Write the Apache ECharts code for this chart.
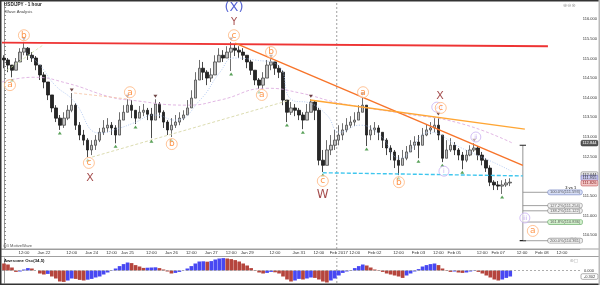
<!DOCTYPE html>
<html><head><meta charset="utf-8">
<script src="https://cdn.jsdelivr.net/npm/echarts@6/dist/echarts.min.js"></script>
<style>html,body{margin:0;padding:0;background:#fff}#c{width:600px;height:285px}</style>
</head><body><div id="c"></div>
<script>
// ---------- DATA ----------
const SLOTS = 145;
const openP = [115.01,114.96,114.83,114.70,114.91,115.16,115.26,115.08,115.01,114.83,
114.58,114.40,114.07,113.74,113.48,113.30,113.48,113.68,113.81,113.30,
113.05,112.92,112.67,112.79,112.92,113.12,113.23,113.30,113.23,113.05,
113.43,113.63,113.81,113.68,113.48,113.63,113.68,113.58,113.43,113.84,
113.63,113.38,113.18,113.30,113.38,113.48,113.56,113.74,113.99,114.45,
114.75,114.65,114.50,114.58,114.91,115.08,115.01,115.16,115.26,115.21,
115.16,115.08,114.91,114.70,114.45,114.32,114.50,114.83,114.91,114.75,
114.65,113.94,113.63,113.74,113.68,113.56,113.43,113.63,113.89,113.68,
112.41,112.28,112.67,112.79,112.92,113.05,113.18,113.30,113.38,113.43,
113.63,113.81,113.05,113.18,113.23,113.12,112.92,112.72,112.62,112.41,
112.28,112.46,112.62,112.79,112.87,112.79,113.05,113.18,113.23,113.30,
113.05,112.46,112.67,112.79,112.67,112.54,112.41,112.54,112.67,112.72,
112.54,112.41,112.21,111.85,111.78,111.75,111.78,111.83];
const highP = [115.08,115.01,114.83,115.01,115.26,115.42,115.29,115.16,115.06,114.83,
114.65,114.40,114.07,113.81,113.56,113.63,113.81,114.12,113.86,113.38,
113.18,112.97,112.92,113.05,113.23,113.43,113.48,113.38,113.30,113.63,
113.81,113.96,113.94,113.68,113.79,113.84,113.74,113.74,113.96,113.89,
113.68,113.43,113.48,113.56,113.63,113.68,113.94,114.19,114.65,114.96,
114.91,114.70,114.75,115.08,115.26,115.21,115.31,115.42,115.36,115.31,
115.26,115.08,114.96,114.70,114.50,114.65,114.96,114.98,114.91,114.83,
114.70,113.94,113.89,113.84,113.74,113.63,113.84,113.96,113.94,113.74,
112.67,112.92,113.05,113.18,113.30,113.35,113.48,113.53,113.63,113.81,
114.02,113.81,113.30,113.38,113.30,113.12,112.97,112.79,112.67,112.54,
112.67,112.77,112.92,113.02,113.05,113.23,113.33,113.38,113.48,113.51,
113.05,112.92,112.97,112.87,112.72,112.62,112.67,112.79,112.84,112.77,
112.62,112.46,112.28,111.90,111.88,111.90,111.93,111.95];
const lowP = [114.75,114.65,114.52,114.70,114.96,115.08,114.96,114.91,114.70,114.45,
114.24,113.94,113.63,113.38,113.18,113.23,113.43,113.63,113.18,112.92,
112.79,112.49,112.54,112.67,112.87,113.05,113.12,113.05,112.84,113.05,
113.43,113.63,113.48,113.33,113.48,113.53,113.43,112.97,113.43,113.48,
113.23,113.05,113.00,113.23,113.30,113.43,113.56,113.74,113.99,114.45,
114.45,114.32,114.40,114.58,114.91,114.91,115.01,114.68,115.06,115.01,
114.96,114.75,114.58,114.32,114.22,114.22,114.50,114.70,114.58,114.50,
113.81,113.38,113.56,113.53,113.43,113.20,113.43,113.63,113.43,112.28,
112.11,112.28,112.54,112.67,112.79,112.92,113.12,113.23,113.28,113.43,
113.63,112.77,112.92,113.05,112.92,112.72,112.54,112.41,112.21,112.03,
112.28,112.41,112.62,112.67,112.46,112.79,113.02,113.07,113.12,112.92,
112.36,112.46,112.62,112.54,112.41,112.18,112.36,112.51,112.62,112.41,
112.28,112.11,111.75,111.65,111.65,111.55,111.73,111.75];
const closeP = [114.96,114.83,114.70,114.91,115.16,115.26,115.08,115.01,114.83,114.58,
114.40,114.07,113.74,113.48,113.30,113.48,113.68,113.81,113.30,113.05,
112.92,112.67,112.79,112.92,113.12,113.23,113.30,113.23,113.05,113.43,
113.63,113.81,113.68,113.48,113.63,113.68,113.58,113.43,113.84,113.63,
113.38,113.18,113.30,113.38,113.48,113.56,113.74,113.99,114.45,114.75,
114.65,114.50,114.58,114.91,115.08,115.01,115.16,115.26,115.21,115.16,
115.08,114.91,114.70,114.45,114.32,114.50,114.83,114.91,114.75,114.65,
113.94,113.63,113.74,113.68,113.56,113.43,113.63,113.89,113.68,112.41,
112.28,112.67,112.79,112.92,113.05,113.18,113.30,113.38,113.43,113.63,
113.81,113.05,113.18,113.23,113.12,112.92,112.72,112.62,112.41,112.28,
112.46,112.62,112.79,112.87,112.79,113.05,113.18,113.23,113.30,113.05,
112.46,112.67,112.79,112.67,112.54,112.41,112.54,112.67,112.72,112.54,
112.41,112.21,111.85,111.78,111.75,111.78,111.83,111.85];
const aoValues = [0.35,0.30,0.15,-0.07,-0.05,0.05,0.12,0.10,0.00,-0.15,
-0.20,-0.17,-0.30,-0.40,-0.55,-0.57,-0.50,-0.40,-0.42,-0.47,
-0.50,-0.46,-0.42,-0.35,-0.30,-0.20,-0.10,0.02,0.10,0.22,
0.32,0.40,0.37,0.27,0.20,0.13,0.14,0.15,0.16,0.12,
0.05,-0.05,-0.15,-0.12,-0.07,0.01,0.10,0.22,0.35,0.45,
0.46,0.44,0.47,0.55,0.60,0.62,0.60,0.57,0.52,0.45,
0.35,0.25,0.12,-0.02,-0.10,-0.15,-0.12,-0.07,-0.09,-0.15,
-0.30,-0.45,-0.55,-0.50,-0.42,-0.45,-0.40,-0.35,-0.37,-0.45,
-0.55,-0.60,-0.50,-0.40,-0.25,-0.12,-0.05,0.02,0.12,0.22,
0.30,0.25,0.15,0.05,-0.02,-0.07,-0.15,-0.20,-0.25,-0.30,
-0.37,-0.25,-0.15,-0.05,0.07,0.20,0.27,0.32,0.35,0.27,
0.10,-0.02,-0.07,-0.05,-0.10,-0.12,-0.10,-0.05,-0.02,-0.07,
-0.15,-0.25,-0.35,-0.45,-0.50,-0.45,-0.37,-0.30];

const xTickSlots = [5,10,17,22,27,31,37,42,47,52,57,61,68,74,79,84,88,93,99,104,109,113,120,124,130,135,140];
const xTickLabels = ['12:00','Jan 22','12:00','Jan 24','12:00','Jan 25','12:00','Jan 26','12:00','Jan 27','12:00','Jan 29','12:00','Jan 31','12:00','Feb 2017','12:00','Feb 02','12:00','Feb 03','12:00','Feb 05','12:00','Feb 07','12:00','Feb 08','12:00'];
const yTickValues = [110.5,111.0,111.5,112.0,112.5,113.0,113.5,114.0,114.5,115.0,115.5,116.0];
const yMin = 110.15, yMax = 116.41;

// trend lines  [slot, price]
const redLine = [[-0.5,115.40],[136.5,115.31]];
const darkOrangeLine = [[58.0,115.39],[130.2,112.28]];
const lightOrangeLine = [[76.8,113.94],[130.7,113.20]];
const cyanLine = [[80.0,112.09],[130.2,112.01]];
const tanDashLine = [[22.1,112.49],[71.8,113.94]];
const greenDashLine = [[0.75,114.70],[9.8,115.34]];
const peachDashLine = [[17.6,114.12],[31.6,113.96]];
const blueMA = [[5.3,115.16],[9.0,114.83],[12.8,114.32],[17.3,113.94],[24.1,113.10],[29.1,113.23],[32.4,113.35],[37.9,113.56],[42.9,113.43],[49.2,113.94],[54.2,114.65],[57.7,115.01],[63.0,114.96],[68.7,114.83],[72.3,113.94],[76.8,113.86],[81.0,113.56],[84.3,113.12],[89.3,113.30],[94.3,113.05],[99.3,112.46],[106.9,113.12],[114.4,112.74],[124.4,112.28],[127.7,112.11]];
const pinkMA = [[-0.5,114.40],[7.3,114.52],[15.8,114.37],[26.6,114.02],[31.6,113.94],[45.9,113.81],[54.2,113.94],[66.0,114.24],[74.3,114.12],[84.3,113.86],[99.3,113.61],[114.4,113.35],[127.7,112.84]];

const pivotLowSlots = [2,14,21,28,33,37,42,57,64,71,75,80,91,99,104,110,115,125];
const pivotHighSlots = [5,17,31,38,57,67,77,90,109,118];

const orangeWaves = [['a',1.5,114.32],['b',5.0,115.59],['c',21.3,112.34],['a',31.6,114.14],['b',42.1,112.82],['c',57.7,115.59],['a',64.7,114.07],['b',67.0,115.16],['c',80.0,111.88],['a',90.1,114.14],['b',99.1,111.85],['c',109.6,113.74],['a',132.7,110.61]];
const purpleWaves = [['v',108.6,113.76],['i',110.4,112.13],['ii',118.4,113.00],['iii',130.7,110.94]];
const redWaves = [['X',21.6,111.95,11],['Y',57.7,115.92,10],['W',80.0,111.52,12],['X',109.4,114.04,11]];
const blueWaves = [['(X)',57.7,116.28,13]];

const fibNames = ['100.0%','127.2%','138.2%','161.8%','200.0%'];
const fibLevels = [111.593,111.254,111.122,110.836,110.361];
const fibTop = 112.79, fibX0 = 130.2, fibX1 = 136.5;
const febLineSlot = 83.5;
const tagPrices = [112.844,112.044,111.955,111.826];
const aoLast = -0.302;

// ---------- CHART ----------
const chart = echarts.init(document.getElementById('c'), null, {renderer:'canvas', width:600, height:285});
const cats = Array.from({length:SLOTS}, (_, i) => String(i));
const labelMap = {}; xTickSlots.forEach((s,k)=>labelMap[s]=xTickLabels[k]);
const candles = openP.map((o,i)=>[o, closeP[i], lowP[i], highP[i]]);
const aoData = aoValues.map((v,i)=>({value:v, itemStyle:{color:(i===0 || v < aoValues[i-1]) ? '#b5453d' : '#4848f2'}}));
const yMinor = []; for (let v = 110.2; v < 116.41; v += 0.1) yMinor.push(+v.toFixed(1));
const FONT = 'Liberation Sans';

function seg(pts, color, width, type, xi, yi, smooth, z) {
  return {type:'line', xAxisIndex:xi===undefined?1:xi, yAxisIndex:yi===undefined?0:yi, data:pts, symbol:'none', silent:true, smooth:!!smooth,
    lineStyle:{color:color, width:width, type:type||'solid'}, animation:false, z:z||3};
}

const series = [
  {type:'candlestick', xAxisIndex:0, yAxisIndex:0, data:candles, barWidth:3, z:2,
   itemStyle:{color:'#c0c0c0', color0:'#262626', borderColor:'#4a4a4a', borderColor0:'#1a1a1a', borderWidth:0.8}},
  seg([[febLineSlot,yMin],[febLineSlot,yMax]], '#888', 0.8, [2,2], 1, 0, false, 1),
  seg(pinkMA, '#d9a5dc', 0.8, [3,2], 1, 0, true),
  seg(blueMA, '#a3bff0', 0.8, [1,1.5], 1, 0, true),
  seg(greenDashLine, '#cfe3a8', 0.8, [3,2]),
  seg(peachDashLine, '#f5c3a3', 0.8, [3,2]),
  seg(tanDashLine, '#dcdcb0', 1, [3,2]),
  seg(redLine, '#ee3434', 1.8, 'solid', 1, 0, false, 4),
  seg(darkOrangeLine, '#f7742a', 1.4, 'solid', 1, 0, false, 4),
  seg(lightOrangeLine, '#ffa634', 1.4, 'solid', 1, 0, false, 4),
  seg(cyanLine, '#3ec6ee', 1.4, [4,2], 1, 0, false, 4),
  // fib projection
  seg([[fibX0,fibTop],[fibX0,fibLevels[4]]], '#777', 0.8),
  seg([[fibX0-0.8,fibTop],[fibX0+0.8,fibTop]], '#222', 1.2),
  seg([[fibX0-0.8,fibLevels[4]],[fibX0+0.8,fibLevels[4]]], '#222', 1.2),
  ...fibLevels.map(l => seg([[fibX0,l],[fibX1,l]], '#888', 0.8)),
  {type:'scatter', xAxisIndex:1, yAxisIndex:0, silent:true, symbolSize:0, z:6,
   data: fibLevels.map((l,k)=>({value:[fibX1,l], name:fibNames[k]+'('+l.toFixed(3)+')',
     label:{backgroundColor: k===0?'#cdd6f3':(k===3?'#ccefc4':'#eeeeee'), borderColor: k===0?'#7f8fc8':(k===3?'#62a662':'#8a8a8a')}})),
   label:{show:true, position:'right', distance:0, formatter:p=>p.name, fontSize:4, fontFamily:FONT, color:'#333', borderWidth:0.6, borderRadius:2, padding:[0.5,2,0,2]}},
  {type:'scatter', xAxisIndex:1, yAxisIndex:0, silent:true, symbolSize:0, z:6,
   data:[{value:[143.6,111.70], name:'3 vs 1'}],
   label:{show:true, position:'left', distance:0, formatter:p=>p.name, fontSize:4, fontWeight:'bold', fontFamily:FONT, color:'#222'}},
  // pivots
  {type:'scatter', xAxisIndex:0, yAxisIndex:0, silent:true, symbol:'triangle', symbolSize:[4,3], symbolOffset:[0,3], z:5,
   itemStyle:{color:'#2f8a2f'}, data: pivotLowSlots.map(s=>[s, lowP[s]])},
  {type:'scatter', xAxisIndex:0, yAxisIndex:0, silent:true, symbol:'triangle', symbolRotate:180, symbolSize:[4,3], symbolOffset:[0,-3], z:5,
   itemStyle:{color:'#4a1616'}, data: pivotHighSlots.map(s=>[s, highP[s]])},
  // wave labels
  {type:'scatter', xAxisIndex:1, yAxisIndex:0, silent:true, symbol:'circle', symbolSize:10, z:7,
   itemStyle:{color:'rgba(255,255,255,0.7)', borderColor:'#c9b0f2', borderWidth:1},
   data: purpleWaves.map(d=>({value:[d[1],d[2]], name:d[0]})),
   label:{show:true, position:'inside', formatter:p=>p.name, color:'#b797ea', fontSize:6, fontFamily:'DejaVu Sans'}},
  {type:'scatter', xAxisIndex:1, yAxisIndex:0, silent:true, symbol:'circle', symbolSize:11, z:8,
   itemStyle:{color:'rgba(255,255,255,0.75)', borderColor:'#ffb57e', borderWidth:1},
   data: orangeWaves.map(d=>({value:[d[1],d[2]], name:d[0]})),
   label:{show:true, position:'inside', formatter:p=>p.name, color:'#ff7a1c', fontSize:9, fontFamily:'DejaVu Sans'}},
  {type:'scatter', xAxisIndex:1, yAxisIndex:0, silent:true, symbolSize:0, z:8,
   data: redWaves.map(d=>({value:[d[1],d[2]], name:d[0], label:{fontSize:d[3]}})),
   label:{show:true, position:'inside', formatter:p=>p.name, color:'#8c1c1c', fontFamily:'DejaVu Sans'}},
  {type:'scatter', xAxisIndex:1, yAxisIndex:0, silent:true, symbolSize:0, z:8,
   data: blueWaves.map(d=>({value:[d[1],d[2]], name:d[0], label:{fontSize:d[3]}})),
   label:{show:true, position:'inside', formatter:p=>p.name, color:'#2a3cc8', fontFamily:'DejaVu Sans'}},
  // oscillator
  {type:'bar', xAxisIndex:2, yAxisIndex:1, data:aoData, barCategoryGap:'8%', silent:true, z:2,
   markLine:{silent:true, symbol:'none', label:{show:false}, lineStyle:{color:'#999', width:0.8, type:[2,2]}, data:[{yAxis:0}]}},
  seg([[febLineSlot,-0.625],[febLineSlot,0.625]], '#888', 0.8, [2,2], 3, 1, false, 1)
];

chart.setOption({
  animation:false,
  backgroundColor:'#fff',
  grid:[{left:2, right:20, top:3, height:246}, {left:2, right:20, top:258, height:25}],
  xAxis:[
    {type:'category', gridIndex:0, data:cats, boundaryGap:true, position:'bottom',
     axisLine:{lineStyle:{color:'#9a9a9a', width:1}},
     axisTick:{interval:(i)=>labelMap[i]!==undefined, alignWithLabel:true, length:2, lineStyle:{color:'#777'}},
     axisLabel:{interval:0, formatter:(v,i)=>labelMap[i]||'', fontSize:4.3, color:'#333', margin:2, fontFamily:FONT},
     splitLine:{show:false}},
    {type:'value', gridIndex:0, min:-0.5, max:SLOTS-0.5, show:false},
    {type:'category', gridIndex:1, data:cats, boundaryGap:true, show:false},
    {type:'value', gridIndex:1, min:-0.5, max:SLOTS-0.5, show:false}
  ],
  yAxis:[
    {type:'value', gridIndex:0, position:'right', min:yMin, max:yMax,
     axisLine:{show:true, lineStyle:{color:'#999'}},
     axisTick:{show:true, customValues:yMinor, length:2, lineStyle:{color:'#888'}},
     axisLabel:{customValues:yTickValues, formatter:v=>v.toFixed(3), fontSize:4, color:'#333', margin:3, fontFamily:FONT},
     splitLine:{show:false}},
    {type:'value', gridIndex:1, position:'right', min:-0.625, max:0.625,
     axisLine:{show:true, lineStyle:{color:'#999'}},
     axisTick:{show:false},
     axisLabel:{customValues:[0], formatter:v=>'0.000', fontSize:4, color:'#333', margin:4, fontFamily:FONT},
     splitLine:{show:false}}
  ],
  series: series
});

// annotations positioned through the chart's own scales
const tagStyles = [['#585858','#fff','#333'],['#e6e6e6','#333','#888'],['#c9c9f2','#333','#6b6bc0'],['#f2c6c6','#8a2020','#c05050']];
const g = [
  {type:'rect', shape:{x:0,y:0,width:600,height:1.5}, style:{fill:'#333'}, z:100},
  {type:'rect', shape:{x:0,y:0,width:1.5,height:285}, style:{fill:'#333'}, z:100},
  {type:'rect', shape:{x:0,y:283.5,width:600,height:1.5}, style:{fill:'#333'}, z:100},
  {type:'rect', shape:{x:598.5,y:0,width:1.5,height:285}, style:{fill:'#bbb'}, z:100},
  {type:'line', shape:{x1:0,y1:249,x2:600,y2:249}, style:{stroke:'#a0a0a0', lineWidth:1}, z:90},
  {type:'line', shape:{x1:0,y1:256.5,x2:600,y2:256.5}, style:{stroke:'#a0a0a0', lineWidth:1}, z:90},
  {type:'text', x:4, y:2.5, style:{text:'USD/JPY - 1 hour', fontSize:4.6, fontWeight:'bold', fontFamily:FONT, fill:'#222'}, z:100},
  {type:'text', x:5, y:10, style:{text:'Wave Analysis', fontSize:4.2, fontFamily:FONT, fill:'#444'}, z:100},
  {type:'text', x:3, y:243.5, style:{text:'⊙⊙ MotiveWave', fontSize:4, fontFamily:FONT, fill:'#555'}, z:100},
  {type:'text', x:4, y:259, style:{text:'Awesome Osc(34,5)', fontSize:4.3, fontWeight:'bold', fontFamily:FONT, fill:'#222'}, z:100},
  {type:'text', x:563, y:3, style:{text:'⊕⊖⊗', fontSize:5, fontFamily:'DejaVu Sans', fill:'#aaa'}, z:100},
  {type:'text', x:570, y:236, style:{text:'⊖◇', fontSize:4.5, fontFamily:'DejaVu Sans', fill:'#aaa'}, z:100},
  {type:'text', x:570, y:258, style:{text:'⊕□', fontSize:4.5, fontFamily:'DejaVu Sans', fill:'#aaa'}, z:100}
];
tagPrices.forEach((p,k)=>{
  const y = chart.convertToPixel({yAxisIndex:0}, p);
  g.push({type:'rect', shape:{x:581,y:y-2.8,width:17,height:5.6,r:1.5}, style:{fill:tagStyles[k][0], stroke:tagStyles[k][2], lineWidth:0.6}, z:95});
  g.push({type:'text', x:589.5, y:y, style:{text:p.toFixed(3), fontSize:4, fontFamily:FONT, fill:tagStyles[k][1], align:'center', verticalAlign:'middle', textAlign:'center', textVerticalAlign:'middle'}, z:96});
});
{
  const y = chart.convertToPixel({yAxisIndex:1}, aoLast);
  g.push({type:'rect', shape:{x:581,y:y-2.8,width:17,height:5.6,r:1.5}, style:{fill:'#fff', stroke:'#777', lineWidth:0.6}, z:95});
  g.push({type:'text', x:589.5, y:y, style:{text:aoLast.toFixed(3), fontSize:4, fontFamily:FONT, fill:'#333', align:'center', verticalAlign:'middle', textAlign:'center', textVerticalAlign:'middle'}, z:96});
}
chart.setOption({graphic:g});
</script>
</body></html>
